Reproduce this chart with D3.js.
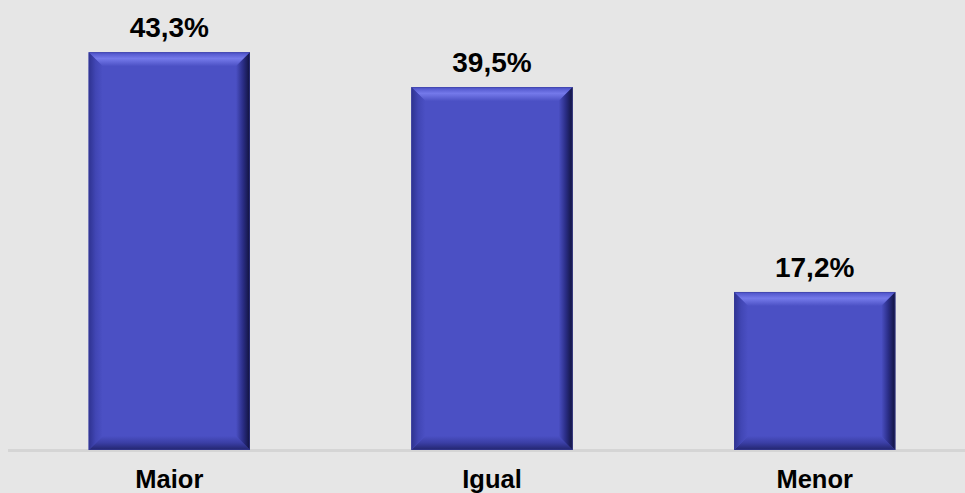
<!DOCTYPE html>
<html>
<head>
<meta charset="utf-8">
<script src="https://cdn.jsdelivr.net/npm/d3@7"></script>
<style>
  html, body { margin: 0; padding: 0; background: #e6e6e6; }
  svg { display: block; }
</style>
</head>
<body>
<svg id="chart" width="965" height="493"></svg>
<script>
const categories = ["Maior", "Igual", "Menor"];
const values = [43.3, 39.5, 17.2];
const valueLabels = ["43,3%", "39,5%", "17,2%"];

const W = 965, H = 493;
const svg = d3.select("#chart");

svg.append("rect").attr("width", W).attr("height", H).attr("fill", "#e6e6e6");

const x = d3.scaleBand().domain(categories).range([8, 976]).paddingInner(0.5).paddingOuter(0.25);
const y = d3.scaleLinear().domain([0, 48]).range([450, 9]);

const defs = svg.append("defs");
function lin(id, x1, y1, x2, y2, stops) {
  const g = defs.append("linearGradient").attr("id", id)
    .attr("x1", x1).attr("y1", y1).attr("x2", x2).attr("y2", y2);
  stops.forEach(s => g.append("stop").attr("offset", s[0]).attr("stop-color", s[1]));
}
lin("gTop", 0, 0, 0, 1, [[0, "#4b50c6"], [0.45, "#7479ea"], [0.6, "#6a6fe0"], [1, "#4b50c4"]]);
lin("gLeft", 0, 0, 1, 0, [[0, "#2e3290"], [0.5, "#4146b4"], [1, "#4b50c4"]]);
lin("gRight", 0, 0, 1, 0, [[0, "#4b50c4"], [0.5, "#2a2d86"], [1, "#10123c"]]);
lin("gBottom", 0, 0, 0, 1, [[0, "#4b50c4"], [0.5, "#3a3ea4"], [1, "#22256e"]]);

// axis baseline
svg.append("line")
  .attr("x1", 8).attr("x2", W).attr("y1", y(0) + 0.5).attr("y2", y(0) + 0.5)
  .attr("stroke", "#d5d5d5").attr("stroke-width", 3);

const bev = 14;
const bars = svg.selectAll("g.bar").data(categories.map((c, i) => ({ c, v: values[i], l: valueLabels[i] })))
  .enter().append("g").attr("class", "bar");

bars.each(function (d) {
  const g = d3.select(this);
  const x0 = x(d.c), x1 = x(d.c) + x.bandwidth();
  const y0 = y(d.v), y1 = y(0);
  const b = Math.min(bev, (y1 - y0) / 2);
  g.append("rect").attr("x", x0).attr("y", y0).attr("width", x1 - x0).attr("height", y1 - y0)
    .attr("fill", "#4b50c4");
  const poly = (pts, fill) => g.append("polygon")
    .attr("points", pts.map(p => p.join(",")).join(" ")).attr("fill", fill);
  poly([[x0, y0], [x1, y0], [x1 - b, y0 + b], [x0 + b, y0 + b]], "url(#gTop)");
  poly([[x0, y1], [x1, y1], [x1 - b, y1 - b], [x0 + b, y1 - b]], "url(#gBottom)");
  poly([[x0, y0], [x0 + b, y0 + b], [x0 + b, y1 - b], [x0, y1]], "url(#gLeft)");
  poly([[x1, y0], [x1 - b, y0 + b], [x1 - b, y1 - b], [x1, y1]], "url(#gRight)");
  g.append("rect").attr("x", x0 + 0.5).attr("y", y0 + 0.5).attr("width", x1 - x0 - 1).attr("height", y1 - y0 - 1)
    .attr("fill", "none").attr("stroke", "#3a3d9a").attr("stroke-opacity", 0.5);
});

bars.append("text")
  .attr("x", d => x(d.c) + x.bandwidth() / 2)
  .attr("y", d => y(d.v) - 15)
  .attr("text-anchor", "middle")
  .attr("font-family", "Liberation Sans, Arial, sans-serif")
  .attr("font-weight", "bold").attr("font-size", 28)
  .attr("fill", "#000")
  .text(d => d.l);

svg.selectAll("text.cat").data(categories).enter().append("text")
  .attr("class", "cat")
  .attr("x", d => x(d) + x.bandwidth() / 2)
  .attr("y", 488)
  .attr("text-anchor", "middle")
  .attr("font-family", "Liberation Sans, Arial, sans-serif")
  .attr("font-weight", "bold").attr("font-size", 25.5)
  .attr("fill", "#000")
  .text(d => d);
</script>
</body>
</html>
